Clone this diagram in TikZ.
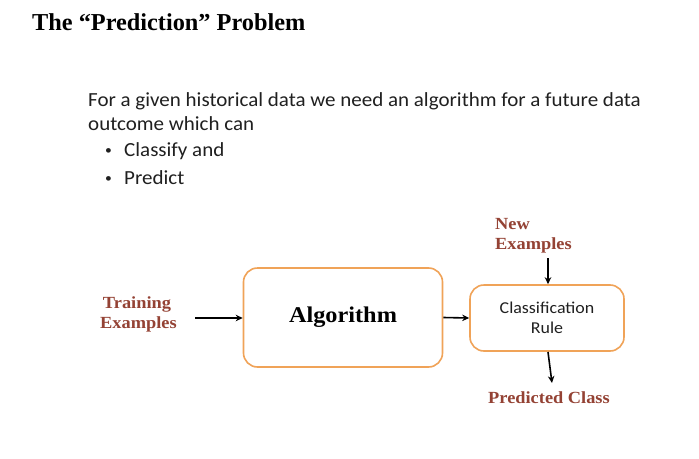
\documentclass[tikz,border=0pt]{standalone}
\usepackage{fontspec}
\setmainfont[FakeStretch=1.05]{Carlito}
\newfontfamily\rulefont[FakeStretch=1.08]{Carlito}
\newfontfamily\headfont{Liberation Serif}
\newfontfamily\labelfont[FakeStretch=1.08]{Liberation Serif}
\usetikzlibrary{arrows.meta}
\definecolor{boxorange}{RGB}{240,163,88}
\definecolor{labelred}{RGB}{148,66,52}
\definecolor{bodygray}{RGB}{32,32,32}
\tikzset{
  flowbox/.style={draw=boxorange, line width=1.6pt, rounded corners=14pt, inner sep=0pt},
  flowlabel/.style={text=labelred, font=\labelfont\bfseries\fontsize{17}{21}\selectfont, inner sep=0pt, anchor=base},
  bodytext/.style={text=bodygray, font=\fontsize{20}{22}\selectfont, inner sep=0pt, anchor=base west},
  bulletmark/.style={text=bodygray, font=\fontsize{13}{16}\selectfont, inner sep=0pt, anchor=base west},
  flowarrow/.style={draw=black, line width=1.6pt, -{Stealth[length=7pt,width=6.5pt]}}
}
\begin{document}
\begin{tikzpicture}[x=1pt,y=-1pt]
\useasboundingbox[fill=white] (0,0) rectangle (699,458);

% heading
\node[anchor=base west, inner sep=0pt, font=\headfont\bfseries\fontsize{24.3}{28}\selectfont] (title) at (32,30) {The “Prediction” Problem};

% introductory text with bullet list
\node[bodytext] (line1) at (88,106) {For a given historical data we need an algorithm for a future data};
\node[bodytext] (line2) at (88,130) {outcome which can};
\node[bulletmark] (bul1) at (105,154) {\textbullet};
\node[bodytext] (item1) at (124,156) {Classify and};
\node[bulletmark] (bul2) at (105,182) {\textbullet};
\node[bodytext] (item2) at (124,184) {Predict};

% processing boxes
\node[flowbox, minimum width=199pt, minimum height=99pt, font=\labelfont\bfseries\fontsize{22.5}{26}\selectfont] (algo) at (343,317.5) {Algorithm};
\node[flowbox, minimum width=154pt, minimum height=66pt, align=center, text=bodygray, font=\rulefont\fontsize{16.6}{20}\selectfont] (rule) at (547,318) {Classification\\Rule};

% inputs and output
\node[flowlabel] (train1) at (137,308) {Training};
\node[flowlabel] (train2) at (138.5,328) {Examples};
\node[flowlabel, anchor=base west] (new1) at (495,229) {New};
\node[flowlabel, anchor=base west] (new2) at (495,249) {Examples};
\node[flowlabel] (pred) at (549,403) {Predicted Class};

\coordinate (trainEnd) at (195,318);
\coordinate (newEnd) at (548,258);
\coordinate (ruleOut) at (548,352);
\coordinate (predIn) at (552,383);

% connectors
\draw[flowarrow] (trainEnd) -- (algo.west |- trainEnd);
\draw[flowarrow] (algo.east) -- (rule.west);
\draw[flowarrow] (newEnd) -- (rule.north -| newEnd);
\draw[flowarrow] (ruleOut) -- (predIn);
\end{tikzpicture}
\end{document}
